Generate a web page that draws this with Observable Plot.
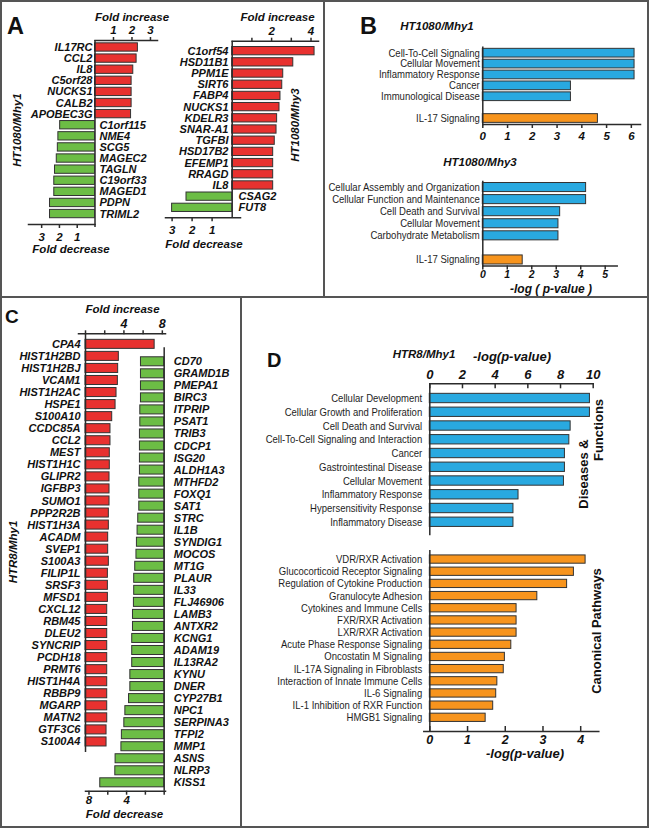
<!DOCTYPE html>
<html><head><meta charset="utf-8">
<script src="https://cdn.jsdelivr.net/npm/d3@7"></script>
<script src="https://cdn.jsdelivr.net/npm/@observablehq/plot@0.6"></script>
<style>
body{margin:0;background:#fff;}
#fig{position:relative;width:649px;height:828px;overflow:hidden;background:#fff;}
#fig svg{position:absolute;left:0;top:0;}
.lbl{position:absolute;white-space:nowrap;line-height:1;color:#111;font-family:'Liberation Sans',Arial,Helvetica,sans-serif;}
.rule{position:absolute;background:#555;}
</style></head><body><div id="fig"></div>
<script>
// ---------- Panel A: HT1080/Mhy1 ----------
const a1UpGenes = ["IL17RC","CCL2","IL8","C5orf28","NUCKS1","CALB2","APOBEC3G"];
const a1UpFold = [2.32,2.25,2.07,1.98,1.98,1.98,1.95];
const a1DownGenes = ["C1orf115","NME4","SCG5","MAGEC2","TAGLN","C19orf33","MAGED1","PDPN","TRIML2"];
const a1DownFold = [1.96,2.06,2.09,2.15,2.25,2.29,2.29,2.53,2.53];
const a1UpTicks = [1,2,3];
const a1DownTicks = [1,2,3];
// ---------- Panel A: HT1080/Mhy3 ----------
const a2UpGenes = ["C1orf54","HSD11B1","PPM1E","SIRT6","FABP4","NUCKS1","KDELR3","SNAR-A1","TGFBI","HSD17B2","EFEMP1","RRAGD","IL8"];
const a2UpFold = [4.18,3.1,2.59,2.54,2.45,2.4,2.28,2.25,2.16,2.08,2.08,2.08,2.08];
const a2DownGenes = ["CSAG2","FUT8"];
const a2DownFold = [2.28,3.0];
const a2UpTicks = [1,2,3,4];
const a2DownTicks = [1,2,3];
// ---------- Panel B ----------
const b1Functions = ["Cell-To-Cell Signaling","Cellular Movement","Inflammatory Response","Cancer","Immunological Disease"];
const b1FunctionScores = [6.13,6.13,6.13,3.56,3.56];
const b1Pathways = ["IL-17 Signaling"];
const b1PathwayScores = [4.65];
const b1Ticks = [0,1,2,3,4,5,6];
const b2Functions = ["Cellular Assembly and Organization","Cellular Function and Maintenance","Cell Death and Survival","Cellular Movement","Carbohydrate Metabolism"];
const b2FunctionScores = [4.22,4.22,3.16,3.09,3.09];
const b2Pathways = ["IL-17 Signaling"];
const b2PathwayScores = [1.63];
const b2Ticks = [0,1,2,3,4,5];
// ---------- Panel C: HTR8/Mhy1 ----------
const cUpGenes = ["CPA4","HIST1H2BD","HIST1H2BJ","VCAM1","HIST1H2AC","HSPE1","S100A10","CCDC85A","CCL2","MEST","HIST1H1C","GLIPR2","IGFBP3","SUMO1","PPP2R2B","HIST1H3A","ACADM","SVEP1","S100A3","FILIP1L","SRSF3","MFSD1","CXCL12","RBM45","DLEU2","SYNCRIP","PCDH18","PRMT6","HIST1H4A","RBBP9","MGARP","MATN2","GTF3C6","S100A4"];
const cUpFold = [7.2,3.47,3.4,3.37,3.23,3.13,2.78,2.6,2.6,2.53,2.53,2.5,2.5,2.5,2.43,2.43,2.36,2.36,2.43,2.33,2.33,2.33,2.26,2.26,2.26,2.26,2.26,2.26,2.26,2.26,2.26,2.26,2.19,2.19];
const cDownGenes = ["CD70","GRAMD1B","PMEPA1","BIRC3","ITPRIP","PSAT1","TRIB3","CDCP1","ISG20","ALDH1A3","MTHFD2","FOXQ1","SAT1","STRC","IL1B","SYNDIG1","MOCOS","MT1G","PLAUR","IL33","FLJ46906","LAMB3","ANTXR2","KCNG1","ADAM19","IL13RA2","KYNU","DNER","CYP27B1","NPC1","SERPINA3","TFPI2","MMP1","ASNS","NLRP3","KISS1"];
const cDownFold = [2.47,2.47,2.47,2.47,2.54,2.54,2.58,2.58,2.58,2.58,2.65,2.65,2.65,2.76,2.83,2.9,2.95,3.08,3.19,3.19,3.22,3.32,3.32,3.4,3.4,3.4,3.6,3.6,3.74,4.13,4.24,4.5,4.55,5.17,5.2,6.8];
const cTicks = [0,2,4,6,8];
// ---------- Panel D: HTR8/Mhy1 ----------
const dFunctions = ["Cellular Development","Cellular Growth and Proliferation","Cell Death and Survival","Cell-To-Cell Signaling and Interaction","Cancer","Gastrointestinal Disease","Cellular Movement","Inflammatory Response","Hypersensitivity Response","Inflammatory Disease"];
const dFunctionScores = [9.8,9.8,8.62,8.54,8.27,8.27,8.21,5.43,5.12,5.12];
const dPathways = ["VDR/RXR Activation","Glucocorticoid Receptor Signaling","Regulation of Cytokine Production","Granulocyte Adhesion","Cytokines and Immune Cells","FXR/RXR Activation","LXR/RXR Activation","Acute Phase Response Signaling","Oncostatin M Signaling","IL-17A Signaling in Fibroblasts","Interaction of Innate Immune Cells","IL-6 Signaling","IL-1 Inhibition of RXR Function","HMGB1 Signaling"];
const dPathwayScores = [4.13,3.82,3.64,2.85,2.3,2.3,2.3,2.16,1.99,1.96,1.79,1.76,1.68,1.48];
const dFunctionTicks = [0,2,4,6,8,10];
const dPathwayTicks = [0,1,2,3,4];

// ---------- helpers ----------
const fig = document.getElementById("fig");
const W = 649, H = 828;
const RED = "#e8312f", GREEN = "#6cbd45", BLUE = "#29a9e0", ORANGE = "#f7941d", EDGE = "#333", AX = "#2b2b2b", INK = "#111";
const SANS = "'Liberation Sans', Arial, Helvetica, sans-serif";
const geneFont = {fontFamily: SANS, fontWeight: "bold", fontStyle: "italic", fontSize: 11, fill: INK};
const termFontB = {fontFamily: SANS, fontSize: 10.5, fill: "#1e1e1e"};
const termFontD = {fontFamily: SANS, fontSize: 11, fill: "#1e1e1e"};
const tickFont = fs => ({fontFamily: SANS, fontWeight: "bold", fontStyle: "italic", fontSize: fs, fill: INK});

function add(box, yopts, xopts, marks) {
  const svg = Plot.plot({
    width: W, height: H,
    marginLeft: box[0], marginRight: W - box[1], marginTop: box[2], marginBottom: H - box[3],
    style: {background: "none", overflow: "visible"},
    x: {...xopts}, y: {round: false, ...yopts}, marks
  });
  fig.appendChild(svg);
  return svg;
}
// the reference uses a narrow sans; compress the term labels horizontally
function condense(svg, factor) {
  svg.querySelectorAll('[aria-label="y-axis tick label"] text').forEach(t => {
    const w = t.getComputedTextLength();
    if (w > 0) {
      t.setAttribute("textLength", (w * factor).toFixed(2));
      t.setAttribute("lengthAdjust", "spacingAndGlyphs");
    }
  });
}
const pairs = (names, vals) => names.map((name, i) => ({name, value: vals[i]}));
const bars = (data, fill) => Plot.barX(data, {x: "value", y: "name", fill, stroke: EDGE, strokeWidth: 1});
const xAxis = (ticks, anchor, size, pad, fs, fmt) => Plot.axisX(ticks, {anchor, tickSize: size, tickPadding: pad, tickFormat: fmt || (d => String(d)), label: null, stroke: AX, strokeWidth: 1.5, ...tickFont(fs)});
const yAxis = (ticks, anchor, pad, font) => Plot.axisY(ticks, {anchor, tickSize: 0, tickPadding: pad, label: null, ...font});
const edge = anchor => Plot.frame({anchor, stroke: AX, strokeWidth: 1.5});
const zero = (opts = {}) => Plot.ruleX([0], {stroke: AX, strokeWidth: 1.5, ...opts});

// ---------- Panel A ----------
const yA1 = {domain: [...a1UpGenes, ...a1DownGenes], paddingInner: 0.25, paddingOuter: 0.41, align: 0.31};
add([94.5, 157, 40, 224], yA1, {domain: [0, 3.38]}, [
  bars(pairs(a1UpGenes, a1UpFold), RED),
  edge("top"), zero({insetBottom: -3}),
  xAxis(a1UpTicks, "top", 4, 2.5, 11.5),
  yAxis(a1UpGenes, "left", 2.5, geneFont)
]);
add([28, 94.5, 40, 224], yA1, {domain: [0, 3.74], reverse: true}, [
  bars(pairs(a1DownGenes, a1DownFold), GREEN),
  edge("bottom"),
  xAxis(a1DownTicks, "bottom", 4, 4, 11.5),
  yAxis(a1DownGenes, "right", 4.5, geneFont)
]);
const yA2 = {domain: [...a2UpGenes, ...a2DownGenes], paddingInner: 0.26, paddingOuter: 0.52, align: 0.5};
add([231.7, 318, 40.7, 217.3], yA2, {domain: [0, 4.38]}, [
  bars(pairs(a2UpGenes, a2UpFold), RED),
  edge("top"), zero(),
  xAxis(a2UpTicks, "top", 4, 2.5, 11.5, d => d % 2 ? "" : String(d)),
  yAxis(a2UpGenes, "left", 3.7, geneFont)
]);
add([165, 240, 40.7, 217.3], yA2, {domain: [-0.42, 3.33], reverse: true}, [
  bars(pairs(a2DownGenes, a2DownFold), GREEN),
  edge("bottom"),
  xAxis(a2DownTicks, "bottom", 4, 4, 11.5),
  yAxis(a2DownGenes, "right", -2, geneFont)
]);

// ---------- Panel B ----------
const svgB1 = add([482.3, 640, 46.7, 124], {domain: [...b1Functions, " ", ...b1Pathways], paddingInner: 0.2, paddingOuter: 0.15, align: 0.5}, {domain: [0, 6.37]}, [
  bars(pairs(b1Functions, b1FunctionScores), BLUE),
  bars(pairs(b1Pathways, b1PathwayScores), ORANGE),
  edge("left"), edge("bottom"),
  xAxis(b1Ticks, "bottom", 4, 3.5, 11.5),
  yAxis([...b1Functions, ...b1Pathways], "left", 3, termFontB)
]);
condense(svgB1, 0.91);
const svgB2 = add([482.3, 616.7, 181, 265.5], {domain: [...b2Functions, " ", ...b2Pathways], paddingInner: 0.25, paddingOuter: 0.125, align: 0.5}, {domain: [0, 5.49]}, [
  bars(pairs(b2Functions, b2FunctionScores), BLUE),
  bars(pairs(b2Pathways, b2PathwayScores), ORANGE),
  edge("left"), edge("bottom"),
  xAxis(b2Ticks, "bottom", 4, 0.5, 10.5),
  yAxis([...b2Functions, ...b2Pathways], "left", 3, termFontB)
]);
condense(svgB2, 0.91);

// ---------- Panel C ----------
add([78, 165, 333.3, 752], {domain: cUpGenes, paddingInner: 0.25, paddingOuter: 0.5, align: 0.5}, {domain: [-0.73, 8.33]}, [
  bars(pairs(cUpGenes, cUpFold), RED),
  edge("top"), zero(),
  xAxis(cTicks, "top", 4, 1.5, 12.5, d => d % 4 || d === 0 ? "" : String(d)),
  yAxis(cUpGenes, "left", -2, geneFont)
]);
add([85, 165, 347.3, 790.7], {domain: cDownGenes, paddingInner: 0.25, paddingOuter: 0.555, align: 0.71}, {domain: [-0.14, 8.37], reverse: true}, [
  bars(pairs(cDownGenes, cDownFold), GREEN),
  edge("bottom"), zero(),
  xAxis(cTicks, "bottom", 4, 0.8, 11.5, d => d % 4 || d === 0 ? "" : String(d)),
  yAxis(cDownGenes, "right", 8.3, geneFont)
]);

// ---------- Panel D ----------
const svgD1 = add([429.3, 592.7, 383.3, 534], {domain: dFunctions, paddingInner: 0.32, paddingOuter: 0.64, align: 0.57}, {domain: [0, 10]}, [
  bars(pairs(dFunctions, dFunctionScores), BLUE),
  edge("left"), edge("top"),
  Plot.ruleX(dFunctionTicks, {stroke: AX, strokeWidth: 1.5, insetBottom: 150.7 - 5}),
  xAxis(dFunctionTicks, "top", 0, 5, 13),
  yAxis(dFunctions, "left", 7.6, termFontD)
]);
condense(svgD1, 0.865);
const svgD2 = add([423.3, 598.3, 550, 731], {domain: dPathways, paddingInner: 0.32, paddingOuter: 0.595, align: 0.34}, {domain: [-0.16, 4.48]}, [
  bars(pairs(dPathways, dPathwayScores), ORANGE),
  edge("bottom"), zero(),
  Plot.ruleX(dPathwayTicks, {stroke: AX, strokeWidth: 1.5, insetTop: 181 - 5}),
  xAxis(dPathwayTicks, "bottom", 0, 4, 12.5),
  yAxis(dPathways, "left", 1.6, termFontD)
]);
condense(svgD2, 0.865);

// ---------- text ----------
function label(text, x, y, fs, {anchor = "middle", bold = true, italic = true, rotate = false} = {}) {
  const d = document.createElement("div");
  d.className = "lbl";
  d.textContent = text;
  d.style.fontSize = fs + "px";
  d.style.fontWeight = bold ? "bold" : "normal";
  d.style.fontStyle = italic ? "italic" : "normal";
  d.style.left = x + "px";
  if (rotate) {
    d.style.top = y + "px";
    d.style.transform = "translate(-50%,-50%) rotate(-90deg)";
  } else {
    d.style.top = (y - 0.85 * fs) + "px";
    const tx = anchor === "middle" ? "-50%" : anchor === "end" ? "-100%" : "0";
    d.style.transform = `translateX(${tx})`;
  }
  fig.appendChild(d);
}
label("A", 7, 35, 23.5, {anchor: "start", italic: false});
label("Fold increase", 132, 21.5, 11.5);
label("Fold decrease", 71, 253.5, 11.5);
label("HT1080/Mhy1", 17.5, 130, 11.5, {rotate: true});
label("Fold increase", 277.5, 21.5, 11.5);
label("Fold decrease", 204, 248.5, 11.5);
label("HT1080/Mhy3", 295.5, 125, 11.5, {rotate: true});
label("B", 360, 35, 23.5, {anchor: "start", italic: false});
label("HT1080/Mhy1", 437, 30.3, 11.5);
label("HT1080/Mhy3", 480, 166.5, 11.5);
label("-log ( p-value )", 551, 293.2, 12);
label("C", 5, 323.5, 19, {anchor: "start", italic: false});
label("Fold increase", 122.5, 313.5, 11.5);
label("HTR8/Mhy1", 14, 552, 11.5, {rotate: true});
label("Fold decrease", 124.5, 819, 11.5);
label("D", 267, 367, 20, {anchor: "start", italic: false});
label("HTR8/Mhy1", 424, 358.3, 11.5);
label("-log(p-value)", 512, 361, 13);
label("Diseases &", 583, 474, 13, {rotate: true, italic: false});
label("Functions", 597.5, 430, 13, {rotate: true, italic: false});
label("Canonical Pathways", 596, 630.5, 13, {rotate: true, italic: false});
label("-log(p-value)", 525, 758, 13);

// ---------- panel frames ----------
function rule(l, t, w, h) {
  const d = document.createElement("div");
  d.className = "rule";
  Object.assign(d.style, {left: l + "px", top: t + "px", width: w + "px", height: h + "px"});
  fig.appendChild(d);
}
rule(0, 0, W, 2); rule(0, H - 2, W, 2); rule(0, 0, 2, H); rule(W - 2, 0, 2, H);
rule(323, 0, 2, 297); rule(0, 296, W, 2); rule(240, 297, 2, H - 297);
</script></body></html>
